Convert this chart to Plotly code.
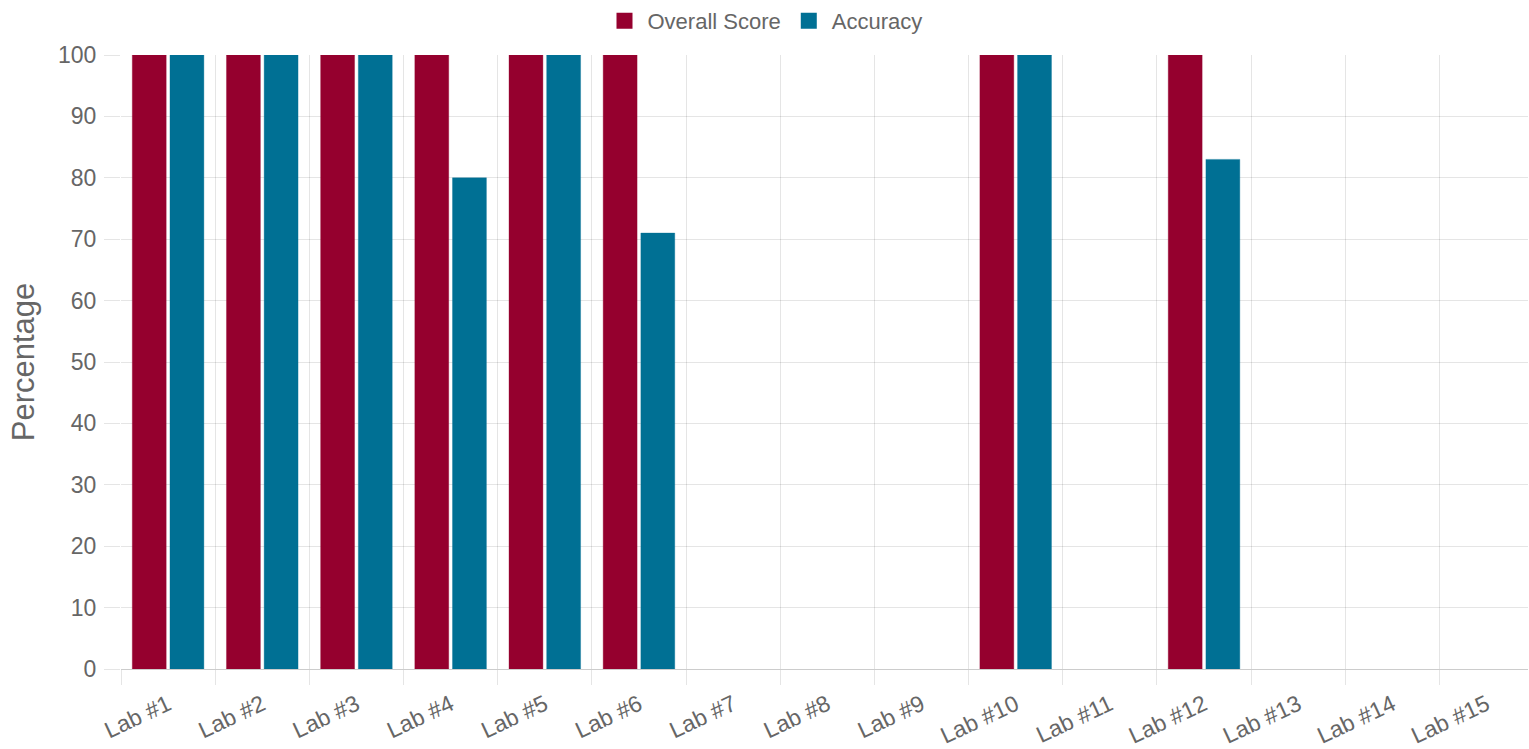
import plotly.graph_objects as go

labs = [f"Lab #{i}" for i in range(1, 16)]
overall_score = [100, 100, 100, 100, 100, 100, None, None, None, 100, None, 100, None, None, None]
accuracy = [100, 100, 100, 80, 100, 71, None, None, None, 100, None, 83, None, None, None]
series_names = ["Overall Score", "Accuracy"]

red = "rgb(149,0,46)"
blue = "rgb(0,112,148)"
grid = "rgba(0,0,0,0.1)"
font_family = "Liberation Sans, Arial, Helvetica, sans-serif"

W, H = 1529, 749
L, R, T, B = 121, 1, 55, 80

fig = go.Figure()
fig.add_trace(go.Bar(name=series_names[0], x=labs, y=overall_score, showlegend=False,
                     marker=dict(color=red, line=dict(color="rgba(149,0,46,0.35)", width=1))))
fig.add_trace(go.Bar(name=series_names[1], x=labs, y=accuracy, showlegend=False,
                     marker=dict(color=blue, line=dict(color="rgba(0,112,148,0.35)", width=1))))
# legend proxies (larger square swatches)
for nm, col in zip(series_names, [red, blue]):
    fig.add_trace(go.Scatter(name=nm, x=[None], y=[None], mode="markers",
                             marker=dict(symbol="square", size=20, color=col)))

fig.update_layout(
    width=W, height=H,
    margin=dict(l=L, r=R, t=T, b=B, autoexpand=False),
    plot_bgcolor="white", paper_bgcolor="white",
    barmode="group", bargap=0.2, bargroupgap=0.1,
    font=dict(family=font_family, color="#666", size=23),
    showlegend=True,
    legend=dict(orientation="h", x=(W / 2 - L) / (W - L - R), xanchor="center",
                y=1 + (T - 21) / (H - T - B), yanchor="middle",
                font=dict(size=22, color="#666"), itemsizing="trace", itemwidth=36,
                traceorder="normal"),
    xaxis=dict(type="category", tickson="boundaries", ticks="outside", ticklen=15,
               range=[-0.5, 14.44],
               tickcolor=grid, showgrid=True, gridcolor=grid, gridwidth=1,
               tickangle=-25, tickfont=dict(size=23, color="#666"),
               ticklabelstandoff=17, automargin=False,
               showline=False, zeroline=False),
    yaxis=dict(range=[0, 100], dtick=10, ticks="outside", ticklen=16, tickcolor=grid,
               showgrid=True, gridcolor=grid, zeroline=True, zerolinecolor="rgba(0,0,0,0.2)",
               zerolinewidth=1, tickfont=dict(size=23, color="#666"),
               ticklabelstandoff=3, automargin=False,
               title=dict(text="Percentage", font=dict(size=31, color="#666"), standoff=14)),
)

fig.write_html("out.html", config={"displayModeBar": False},
               post_script="document.body.style.margin='0';")
